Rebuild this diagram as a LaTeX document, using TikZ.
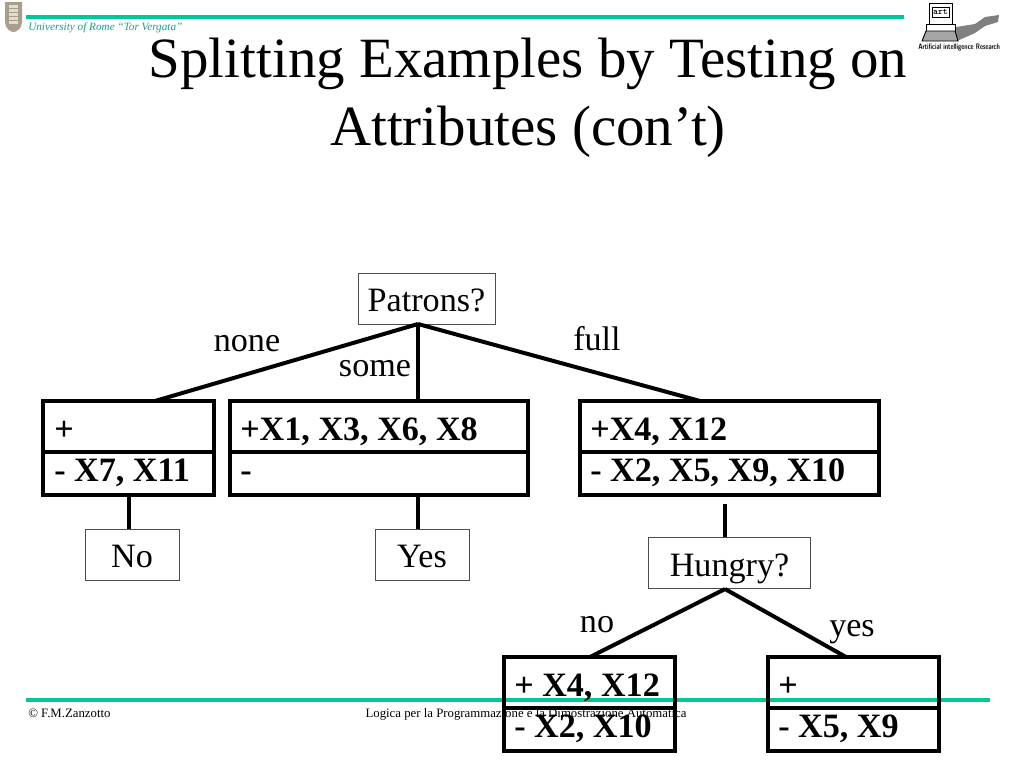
\documentclass[tikz,border=0pt]{standalone}
\usepackage{graphicx}
\usepackage{fontspec}
\setmainfont{Liberation Serif}
\definecolor{teal1}{HTML}{00C896}
\definecolor{teal2}{HTML}{1F9C86}
\definecolor{shield}{HTML}{A89F88}
\newcommand{\fs}[1]{\fontsize{#1}{#1}\selectfont}
\begin{document}
\begin{tikzpicture}[x=0.75pt,y=-0.75pt,
  thinbox/.style={draw=black!70,line width=0.75pt,fill=white,inner sep=0pt},
  lab/.style={inner sep=0pt,anchor=base,font=\fs{25.6}},
  boxrow/.style={anchor=base west,inner sep=0pt,font=\fs{25.6}\bfseries},
  thick line/.style={line width=3pt,line cap=butt},
  box line/.style={line width=3pt,line join=miter},
  teal bar/.style={teal1,line width=3pt}]
\useasboundingbox (0,0) rectangle (1024,768);
% header
\coordinate (tl) at (26,16.5); \coordinate (tr) at (904,16.5);
\draw[teal bar] (tl) -- (tr);
\coordinate (bl) at (26,699.5); \coordinate (br) at (990,699.5);
\draw[teal bar] (bl) -- (br);
% shield logo
\fill[shield] (5,2) -- (22,2) -- (22,22) .. controls (22,29) and (16,32) .. (13.5,32) .. controls (11,32) and (5,29) .. (5,22) -- cycle;
\fill[white!65!shield] (9,5) rectangle (18,24);
\foreach \yy in {8,12,16,20}{\draw[shield,line width=0.5pt] (9,\yy) -- (18,\yy);}
% art logo
\fill[black!50] (950,28) -- (975,24) -- (985,17) -- (999,15) -- (998,22) -- (985,26) -- (975,33) -- (957,41) -- cycle;
\draw[black,line width=0.7pt,fill=white] (929,3) rectangle (952,24);
\draw[black,line width=0.7pt] (932,7) rectangle (949,17);
\node[inner sep=0pt,font=\ttfamily\bfseries\fs{7}] (art) at (940.5,12) {art};
\draw[black,line width=0.7pt,fill=white] (926,24) rectangle (955,31);
\draw[black,line width=0.7pt,fill=black!35] (926,31) -- (955,31) -- (958,41) -- (922,41) -- cycle;
\node[inner sep=0pt,anchor=west,font=\sffamily\bfseries\fs{6}] (air) at (918,48) {\scalebox{0.74}[1]{Artificial intelligence Research}};
\node[inner sep=0pt,anchor=base west,text=teal2,font=\itshape\fs{8.4}] (uni) at (28,30) {University of Rome “Tor Vergata”};
% title
\node[inner sep=0pt,font=\fs{42.7}] (t1) at (528,64) {Splitting Examples by Testing on};
\node[inner sep=0pt,font=\fs{42.7}] (t2) at (528,132) {Attributes (con’t)};
% footer
\node[inner sep=0pt,anchor=base west,font=\fs{9.6}] (ft1) at (28,717) {© F.M.Zanzotto};
\node[inner sep=0pt,anchor=base,font=\fs{9.6}] (ft2) at (526,717) {Logica per la Programmazione e la Dimostrazione Automatica};
% top node
\node[thinbox,minimum width=102.5,minimum height=38.25] (patrons) at (427,298.5) {};
\node[lab] (patronst) at (426.5,311) {Patrons?};
% boxes
\draw[box line] (43,401) rectangle (214,495);
\draw[box line] (43,452) -- (214,452);
\coordinate (ab) at (128.5,495);
\draw[box line] (230,401) rectangle (528,495);
\draw[box line] (230,452) -- (528,452);
\coordinate (b) at (418,401); \coordinate (bb) at (418,495);
\draw[box line] (580,401) rectangle (879,495);
\draw[box line] (580,452) -- (879,452);
\coordinate (c) at (700,401); \coordinate (cb) at (725,503.5);
\draw[box line] (504,657) rectangle (675,751);
\draw[box line] (504,708) -- (675,708);
\coordinate (d) at (590,657);
\draw[box line] (768,657) rectangle (939,751);
\draw[box line] (768,708) -- (939,708);
\coordinate (e) at (846,657);
\coordinate (pb) at (418,324);
\coordinate (pa) at (155,401);
% connectors
\draw[thick line] (pb) -- (pa);
\draw[thick line] (pb) -- (b);
\draw[thick line] (pb) -- (c);
% leaf nodes
\node[thinbox,minimum width=70.5,minimum height=38.25] (no) at (132,554.5) {};
\node[lab] (not) at (132,567) {No};
\node[thinbox,minimum width=70.5,minimum height=38.25] (yes) at (422,554.5) {};
\node[lab] (yest) at (422,567) {Yes};
\node[thinbox,minimum width=122,minimum height=38.25] (hungry) at (729.5,563) {};
\node[lab] (hungryt) at (729.5,576) {Hungry?};
\draw[thick line] (ab) -- (no.north -| ab);
\draw[thick line] (bb) -- (yes.north -| bb);
\draw[thick line] (cb) -- (hungry.north -| cb);
\coordinate (hb) at (725,589);
\draw[thick line] (hb) -- (d);
\draw[thick line] (hb) -- (e);
% box texts
\node[boxrow] (a1) at (54,440) {+};
\node[boxrow] (a2) at (54,481.5) {- X7, X11};
\node[boxrow] (b1) at (240,440) {+X1, X3, X6, X8};
\node[boxrow] (b2) at (240,481.5) {-};
\node[boxrow] (c1) at (590,440) {+X4, X12};
\node[boxrow] (c2) at (590,481.5) {- X2, X5, X9, X10};
\node[boxrow] (d1) at (514,696) {+ X4, X12};
\node[boxrow] (d2) at (514,737) {- X2, X10};
\node[boxrow] (e1) at (778,696) {+};
\node[boxrow] (e2) at (778,737) {- X5, X9};
% edge labels
\node[lab] (none) at (247,351) {none};
\node[lab] (some) at (375,376) {some};
\node[lab] (full) at (597,350.5) {full};
\node[lab] (nol) at (597,632.5) {no};
\node[lab] (yesl) at (852,636.5) {yes};
\end{tikzpicture}
\end{document}
